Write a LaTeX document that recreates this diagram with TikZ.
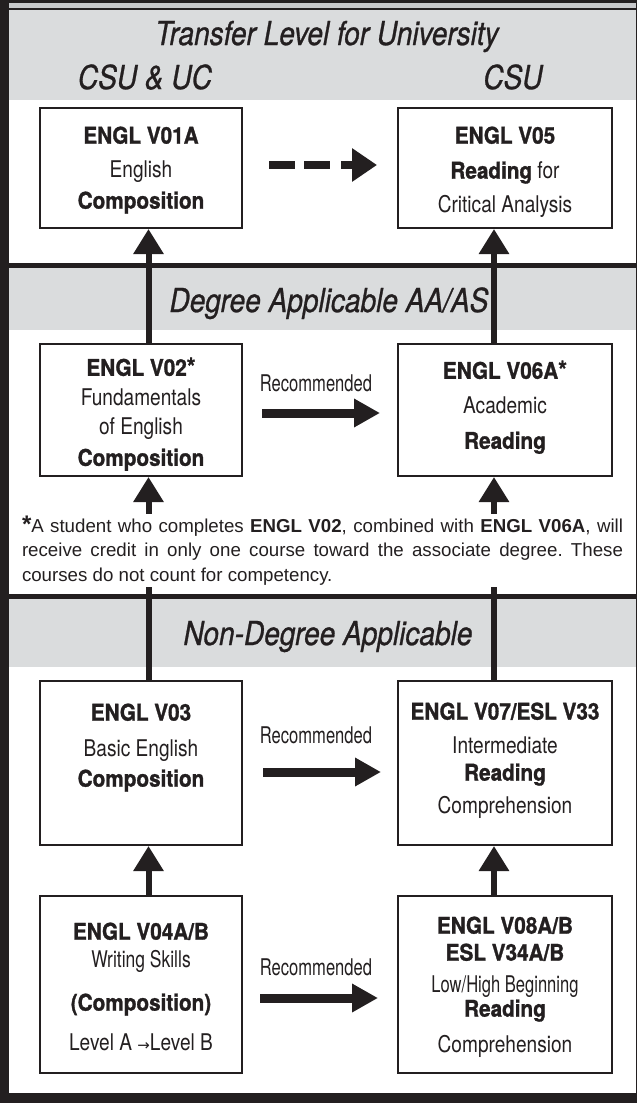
\documentclass[tikz,border=0pt]{standalone}
\usepackage{fontspec}
\setmainfont{TeX Gyre Heros}[FakeStretch=0.83]
\newfontfamily\bdfont{TeX Gyre Heros}[FakeStretch=0.9, FakeBold=1.2]
\newfontfamily\titlefont{TeX Gyre Heros}[FakeStretch=0.85, FakeBold=0.8]
\newfontfamily\narrowfont{TeX Gyre Heros}[FakeStretch=0.72]
\newfontfamily\midfont{TeX Gyre Heros}[FakeStretch=0.76]
\newfontfamily\recfont{TeX Gyre Heros}[FakeStretch=0.72]
\newfontfamily\symfont{DejaVu Sans}
\newfontfamily\fnfont{Liberation Sans}
\usetikzlibrary{arrows.meta}
\definecolor{ink}{RGB}{35,31,32}
\definecolor{band}{RGB}{218,220,221}
\definecolor{hair}{RGB}{200,201,203}
\newcommand{\BX}[1]{{\bdfont\bfseries #1}}
\newcommand{\bigast}{{\fontsize{25}{24}\selectfont *}}
\begin{document}
\begin{tikzpicture}[x=1pt,y=-1pt,
  course/.style={draw=ink, line width=2pt, fill=white, inner sep=0pt},
  ctext/.style={align=center, inner sep=0pt, anchor=north, text=ink, font=\fontsize{23}{24}\selectfont},
  title/.style={anchor=base, inner sep=0pt, text=ink, font=\titlefont\fontsize{33}{33}\selectfont\itshape},
  rec/.style={anchor=base, inner sep=0pt, text=ink, font=\recfont\fontsize{23}{23}\selectfont},
  uparrow/.style={draw=ink, line width=6pt, -{Triangle[length=25pt,width=29pt]}},
  recarrow/.style={draw=ink, line width=9pt, -{Triangle[length=26pt,width=27pt]}},
  dasharrow/.style={draw=ink, line width=8pt, -{Triangle[length=25pt,width=32pt]},
    dash pattern=on 26pt off 9pt on 26pt off 11pt on 11pt off 40pt},
  fnote/.style={fill=white, inner xsep=0pt, inner ysep=2pt, text width=601pt, align=justify,
    anchor=north, text=ink, font=\fnfont\fontsize{18.7}{24.5}\selectfont\frenchspacing}
]
\useasboundingbox (0,0) rectangle (637,1103);
% frame and bands
\fill[ink] (0,0) rectangle (637,1103);
\fill[white] (9,10) rectangle (635.5,1093);
\fill[hair] (9,3) rectangle (636,8);
\fill[band] (9,10) rectangle (635.5,100);
\fill[band] (9,268) rectangle (635.5,330);
\fill[ink] (9,263) rectangle (636,268);
\fill[band] (9,599) rectangle (635.5,667);
\fill[ink] (9,594) rectangle (636,599);

% titles
\node[title] (t1) at (327,45) {Transfer Level for University};
\node[title] (t1a) at (145,89) {CSU \& UC};
\node[title] (t1b) at (513,89) {CSU};
\node[title] (t2) at (329,312) {Degree Applicable AA/AS};
\node[title] (t3) at (328,645) {Non-Degree Applicable};

% boxes
\node[course, minimum width=202pt, minimum height=120pt] (v01a) at (141,168) {};
\node[course, minimum width=214pt, minimum height=120pt] (v05) at (505,168) {};
\node[course, minimum width=202pt, minimum height=132pt] (v02) at (141,410) {};
\node[course, minimum width=214pt, minimum height=132pt] (v06a) at (505,410) {};
\node[course, minimum width=202pt, minimum height=164pt] (v03) at (141,763) {};
\node[course, minimum width=214pt, minimum height=164pt] (v07) at (505,763) {};
\node[course, minimum width=202pt, minimum height=177pt] (v04) at (141,984.5) {};
\node[course, minimum width=214pt, minimum height=177pt] (v08) at (505,984.5) {};

% box texts
\node[ctext] (v01a-t) at ([yshift=-19.4pt]v01a.north)
  {\BX{ENGL V01A}\\[10pt] English\\[7pt] \BX{Composition}};
\node[ctext] (v05-t) at ([yshift=-19.4pt]v05.north)
  {\BX{ENGL V05}\\[11pt] \BX{Reading} for\\[10pt] Critical Analysis};
\node[ctext] (v02-t) at ([yshift=-14.4pt]v02.north)
  {\BX{ENGL V02\bigast}\\[6pt] Fundamentals\\[5pt] of English\\[7pt] \BX{Composition}};
\node[ctext] (v06a-t) at ([yshift=-17.4pt]v06a.north)
  {\BX{ENGL V06A\bigast}\\[11pt] Academic\\[11pt] \BX{Reading}};
\node[ctext] (v03-t) at ([yshift=-23.4pt]v03.north)
  {\BX{ENGL V03}\\[12pt] Basic English\\[6pt] \BX{Composition}};
\node[ctext] (v07-t) at ([yshift=-22.4pt]v07.north)
  {\BX{ENGL V07/ESL V33}\\[10pt] Intermediate\\[3pt] \BX{Reading}\\[9pt] Comprehension};
\node[ctext] (v04-t) at ([yshift=-27.4pt]v04.north)
  {\BX{ENGL V04A/B}\\[4pt] {\midfont Writing Skills}\\[19pt] \BX{(Composition)}\\[16pt]
   Level A {\symfont\fontsize{15}{15}\selectfont →}Level B};
\node[ctext] (v08-t) at ([yshift=-21.4pt]v08.north)
  {\BX{ENGL V08A/B}\\[3pt] \BX{ESL V34A/B}\\[8pt] {\narrowfont Low/High Beginning}\\[0pt] \BX{Reading}\\[12pt] Comprehension};

% vertical connectors
\draw[uparrow] ([xshift=7.5pt]v02.north) -- ([xshift=7.5pt]v01a.south);
\draw[uparrow] ([xshift=-11pt]v06a.north) -- ([xshift=-11pt]v05.south);
\draw[uparrow] ([xshift=7.5pt]v03.north) -- ([xshift=7.5pt]v02.south);
\draw[uparrow] ([xshift=-11pt]v07.north) -- ([xshift=-11pt]v06a.south);
\draw[uparrow] ([xshift=7.5pt]v04.north) -- ([xshift=7.5pt]v03.south);
\draw[uparrow] ([xshift=-11pt]v08.north) -- ([xshift=-11pt]v07.south);

% horizontal connectors
\draw[dasharrow] ([xshift=26pt,yshift=3pt]v01a.east) -- ([xshift=-20pt,yshift=3pt]v05.west);
\draw[recarrow] ([xshift=19pt,yshift=-3pt]v02.east) -- ([xshift=-17pt,yshift=-3pt]v06a.west);
\draw[recarrow] ([xshift=20pt,yshift=-9pt]v03.east) -- ([xshift=-16pt,yshift=-9pt]v07.west);
\draw[recarrow] ([xshift=17pt,yshift=-13.5pt]v04.east) -- ([xshift=-19pt,yshift=-13.5pt]v08.west);

\node[rec] (rec2) at (316,391) {Recommended};
\node[rec] (rec3) at (316,743) {Recommended};
\node[rec] (rec4) at (316,975) {Recommended};

% footnote
\node[fnote] (note) at (322.5,513.5)
  {{\bfseries\fontsize{24}{24}\selectfont *}A student who completes \textbf{ENGL V02}, combined with \textbf{ENGL V06A}, will\linebreak
   receive credit in only one course toward the associate degree. These\linebreak
   courses do not count for competency.};
\end{tikzpicture}
\end{document}
